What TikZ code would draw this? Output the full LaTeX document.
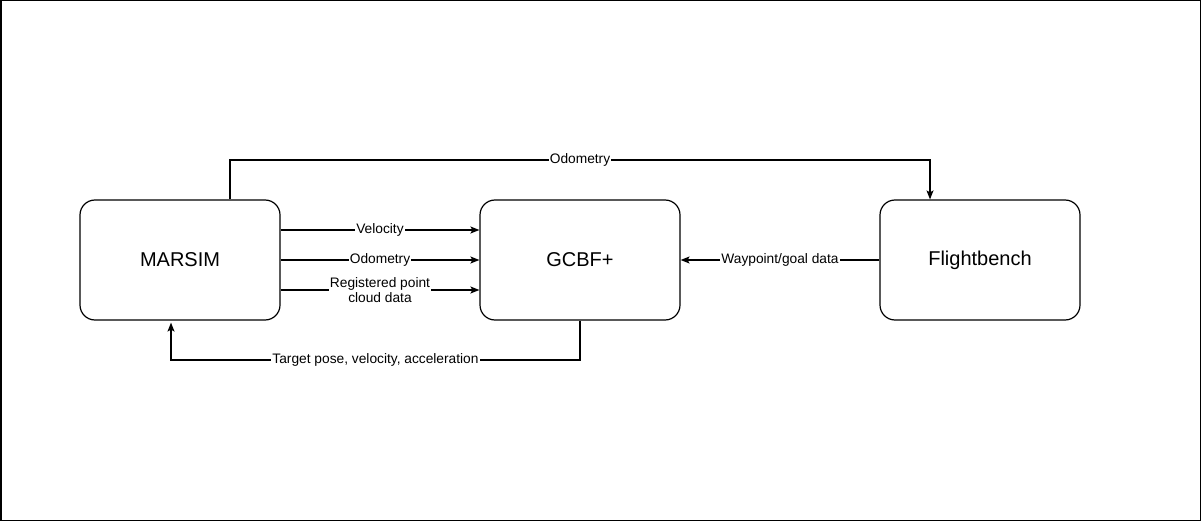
\documentclass[tikz,border=0pt]{standalone}
\usepackage{fontspec}
\setmainfont{Liberation Sans}
\usetikzlibrary{arrows.meta}

\tikzset{
  block/.style={draw, line width=1.2pt, rounded corners=15pt, minimum width=200pt, minimum height=120pt, font=\fontsize{20}{24}\selectfont},
  arr/.style={line width=1.1pt, -{Stealth[length=9pt,width=7pt,inset=2pt]}},
  lbl/.style={fill=white, inner sep=1pt, align=center, font=\fontsize{13.75}{15.5}\selectfont}
}

\begin{document}
\begin{tikzpicture}[x=1pt,y=-1pt]
    \useasboundingbox (0,0) rectangle (1201,521);
    \draw[line width=1.5pt] (0.75,0.75) rectangle (1200.25,520.25);

    \node[block] at (180,260) (marsim) {MARSIM};
    \node[block] at (580,260) (gcbf) {GCBF+};
    \node[block] at (980,260) (flight) {Flightbench};

    % MARSIM -> GCBF+
    \draw[arr] (marsim.east |- 0,230) -- node[lbl] {Velocity} (gcbf.west |- 0,230);
    \draw[arr] (marsim.east) -- node[lbl] {Odometry} (gcbf.west);
    \draw[arr] (marsim.east |- 0,290) -- node[lbl] {Registered point\\cloud data} (gcbf.west |- 0,290);

    % Flightbench -> GCBF+
    \draw[arr] (flight.west) -- node[lbl] {Waypoint/goal data} (gcbf.east);

    % MARSIM -> Flightbench
    \coordinate (top1) at ([xshift=50pt]marsim.north |- 0,160);
    \coordinate (top2) at ([xshift=-50pt]flight.north |- 0,160);
    \draw[arr] ([xshift=50pt]marsim.north) -- (top1) -- node[lbl] {Odometry} (top2) -- ([xshift=-50pt]flight.north);

    % GCBF+ -> MARSIM
    \coordinate (bot1) at (gcbf.south |- 0,360);
    \coordinate (bot2) at ([xshift=-9pt]marsim.south |- 0,360);
    \draw[arr, shorten >=2pt] (gcbf.south) -- (bot1) -- node[lbl] {Target pose, velocity, acceleration} (bot2) -- ([xshift=-9pt]marsim.south);
\end{tikzpicture}
\end{document}
